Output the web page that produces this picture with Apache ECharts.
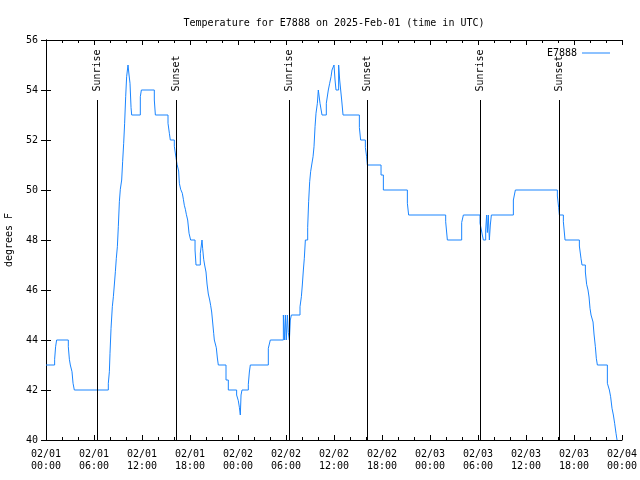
<!DOCTYPE html>
<html><head><meta charset="utf-8">
<script src="https://cdn.jsdelivr.net/npm/echarts@6/dist/echarts.min.js"></script>
<style>html,body{margin:0;padding:0;background:#fff}#c{width:640px;height:480px}</style>
</head><body><div id="c"></div>
<script>
const titleText = 'Temperature for E7888 on 2025-Feb-01 (time in UTC)';
const seriesName = 'E7888';
const yAxisName = 'degrees F';
const xTickLabels = ['02/01\n00:00','02/01\n06:00','02/01\n12:00','02/01\n18:00','02/02\n00:00','02/02\n06:00','02/02\n12:00','02/02\n18:00','02/03\n00:00','02/03\n06:00','02/03\n12:00','02/03\n18:00','02/04\n00:00'];
// hours since 02/01 00:00 UTC at which the reading changes, and the new reading
const tempHours = [0,1.08,1.2,1.33,2.79,2.92,3.04,3.25,3.38,3.54,7.79,7.92,8.0,8.13,8.29,8.42,8.54,8.67,8.79,8.92,9.04,9.17,9.29,9.46,9.58,9.71,9.83,9.96,10.08,10.25,10.38,10.5,10.63,10.71,11.79,11.92,13.54,13.67,15.25,15.42,15.54,16.04,16.25,16.38,16.58,16.67,16.83,17.04,17.17,17.29,17.42,17.54,17.71,17.88,18.08,18.63,18.75,19.29,19.5,19.58,19.71,19.83,20.0,20.13,20.29,20.46,20.58,20.71,20.83,20.96,21.04,21.29,21.42,21.54,22.5,22.79,23.83,24.04,24.17,24.29,24.38,24.5,25.29,25.42,25.54,27.79,28.04,29.67,29.83,29.92,30.04,30.17,30.29,30.42,30.54,30.67,31.75,31.92,32.04,32.17,32.29,32.42,32.71,32.83,32.96,33.08,33.21,33.38,33.5,33.63,33.75,33.92,34.04,34.25,34.5,35.04,35.29,35.46,35.63,35.75,36.0,36.13,36.25,36.58,36.71,36.96,37.13,39.17,39.33,39.92,40.08,40.17,41.88,42.17,45.17,45.33,49.96,50.17,51.96,52.17,54.25,54.42,54.54,54.67,54.96,55.08,55.17,55.29,55.42,55.54,55.67,58.42,58.67,63.92,64.08,64.17,64.67,64.88,66.67,66.88,67.0,67.42,67.58,67.75,67.88,68.0,68.13,68.38,68.5,68.67,68.79,68.92,70.17,70.42,70.58,70.75,70.92,71.08,71.25,71.38];
const tempValues = [43,43.23,43.73,44,43.73,43.23,43,42.73,42.27,42,42.27,42.73,43.47,44.47,45.33,45.73,46.2,46.73,47.27,47.73,48.53,49.53,50.03,50.4,51.13,51.87,52.67,53.73,54.53,55,54.6,54.27,53.3,53,53.73,54,53.6,53,52.67,52.27,52,51.75,51.29,51.03,50.76,50.27,50.03,49.87,49.63,49.39,49.23,49.03,48.8,48.27,48,47.6,47,47.47,48,47.67,47.23,47,46.72,46.24,45.84,45.6,45.39,45.12,44.72,44.27,44,43.69,43.28,43,42.4,42,41.8,41.57,41.31,41,41.8,42,42.23,42.72,43,43.67,44,45,44,45,44,45,44.3,44,44.8,45,45.33,45.73,46.2,46.8,47.27,48,48.51,49.53,50.33,50.73,51,51.33,51.73,52.53,53.07,53.47,54,53.47,53,53.47,54,54.27,54.53,54.8,55,54.4,54,55,54.4,53.6,53,52.5,52,51.7,51.33,51,50.6,50,49.47,49,48.73,48,48.7,49,48.67,48.4,48.2,48,48.4,49,48.3,49,48,48.6,49,49.6,50,49.76,49.31,49,48.73,48,47.76,47.25,47,46.72,46.23,46,45.72,45.27,45,44.72,44.24,43.73,43.27,43,42.27,42,41.73,41.27,41,40.67,40.27,40];
const eventNames = ['Sunrise','Sunset','Sunrise','Sunset','Sunrise','Sunset'];
const eventHours = [6.46,16.29,30.41,40.16,54.29,64.16];
const eventLineTop = 53.6;

const FONT = 'DejaVu Sans Mono';
const txt = {fontFamily: FONT, fontSize: 10, color: '#000'};
const chart = echarts.init(document.getElementById('c'), null, {renderer: 'canvas'});

function xAxisDef(pos, labels) {
  return {
    type: 'value', position: pos, min: 0, max: 72, interval: 6,
    axisLine: {show: true, lineStyle: {color: '#000', width: 1}},
    axisTick: {show: true, inside: true, length: 5, lineStyle: {color: '#000'}},
    minorTick: {show: true, splitNumber: 3, length: 3, lineStyle: {color: '#000'}},
    splitLine: {show: false},
    axisLabel: {show: labels, ...txt, lineHeight: 12, margin: 8, hideOverlap: false,
      formatter: v => xTickLabels[Math.round(v / 6)] || ''}
  };
}
function yAxisDef(pos, labels) {
  return {
    type: 'value', position: pos, min: 40, max: 56, interval: 2,
    axisLine: {show: true, lineStyle: {color: '#000', width: 1}},
    axisTick: {show: true, inside: true, length: 5, lineStyle: {color: '#000'}},
    splitLine: {show: false},
    axisLabel: {show: labels, ...txt, margin: 8},
    name: labels ? yAxisName : '', nameLocation: 'middle', nameGap: 32, nameRotate: 90,
    nameTextStyle: {...txt}
  };
}

chart.setOption({
  animation: false,
  backgroundColor: '#fff',
  title: {text: titleText, left: 329, top: 13, textAlign: 'center',
    textStyle: {...txt, fontWeight: 'normal'}},
  legend: {show: true, right: 25, top: 43, align: 'right', itemWidth: 28, itemHeight: 1,
    data: [{name: seriesName, icon: 'rect'}], textStyle: {...txt}},
  grid: {left: 46, right: 18, top: 40, bottom: 40, containLabel: false, outerBoundsMode: 'none'},
  xAxis: [xAxisDef('bottom', true), xAxisDef('top', false)],
  yAxis: [yAxisDef('left', true), yAxisDef('right', false)],
  series: [
    {
      name: seriesName, type: 'line', step: 'end', showSymbol: false, symbol: 'none',
      color: '#1a85ff', lineStyle: {width: 1, color: '#1a85ff'},
      data: tempHours.map((h, i) => [h, tempValues[i]]),
      markLine: {
        silent: true, symbol: ['none', 'none'], animation: false,
        lineStyle: {color: '#000', width: 1, type: 'solid'},
        label: {show: false},
        data: eventHours.map(h => [{coord: [h, 40]}, {coord: [h, eventLineTop]}])
      },
      z: 2
    },
    {
      name: 'events', type: 'scatter', symbolSize: 1,
      itemStyle: {color: 'rgba(0,0,0,0)'},
      data: eventHours.map((h, i) => ({value: [h, eventLineTop], name: eventNames[i]})),
      label: {show: true, position: 'top', distance: 8, rotate: 90, align: 'left',
        verticalAlign: 'middle', ...txt, opacity: 1, formatter: p => p.name},
      silent: true, z: 3
    }
  ]
});
</script></body></html>
